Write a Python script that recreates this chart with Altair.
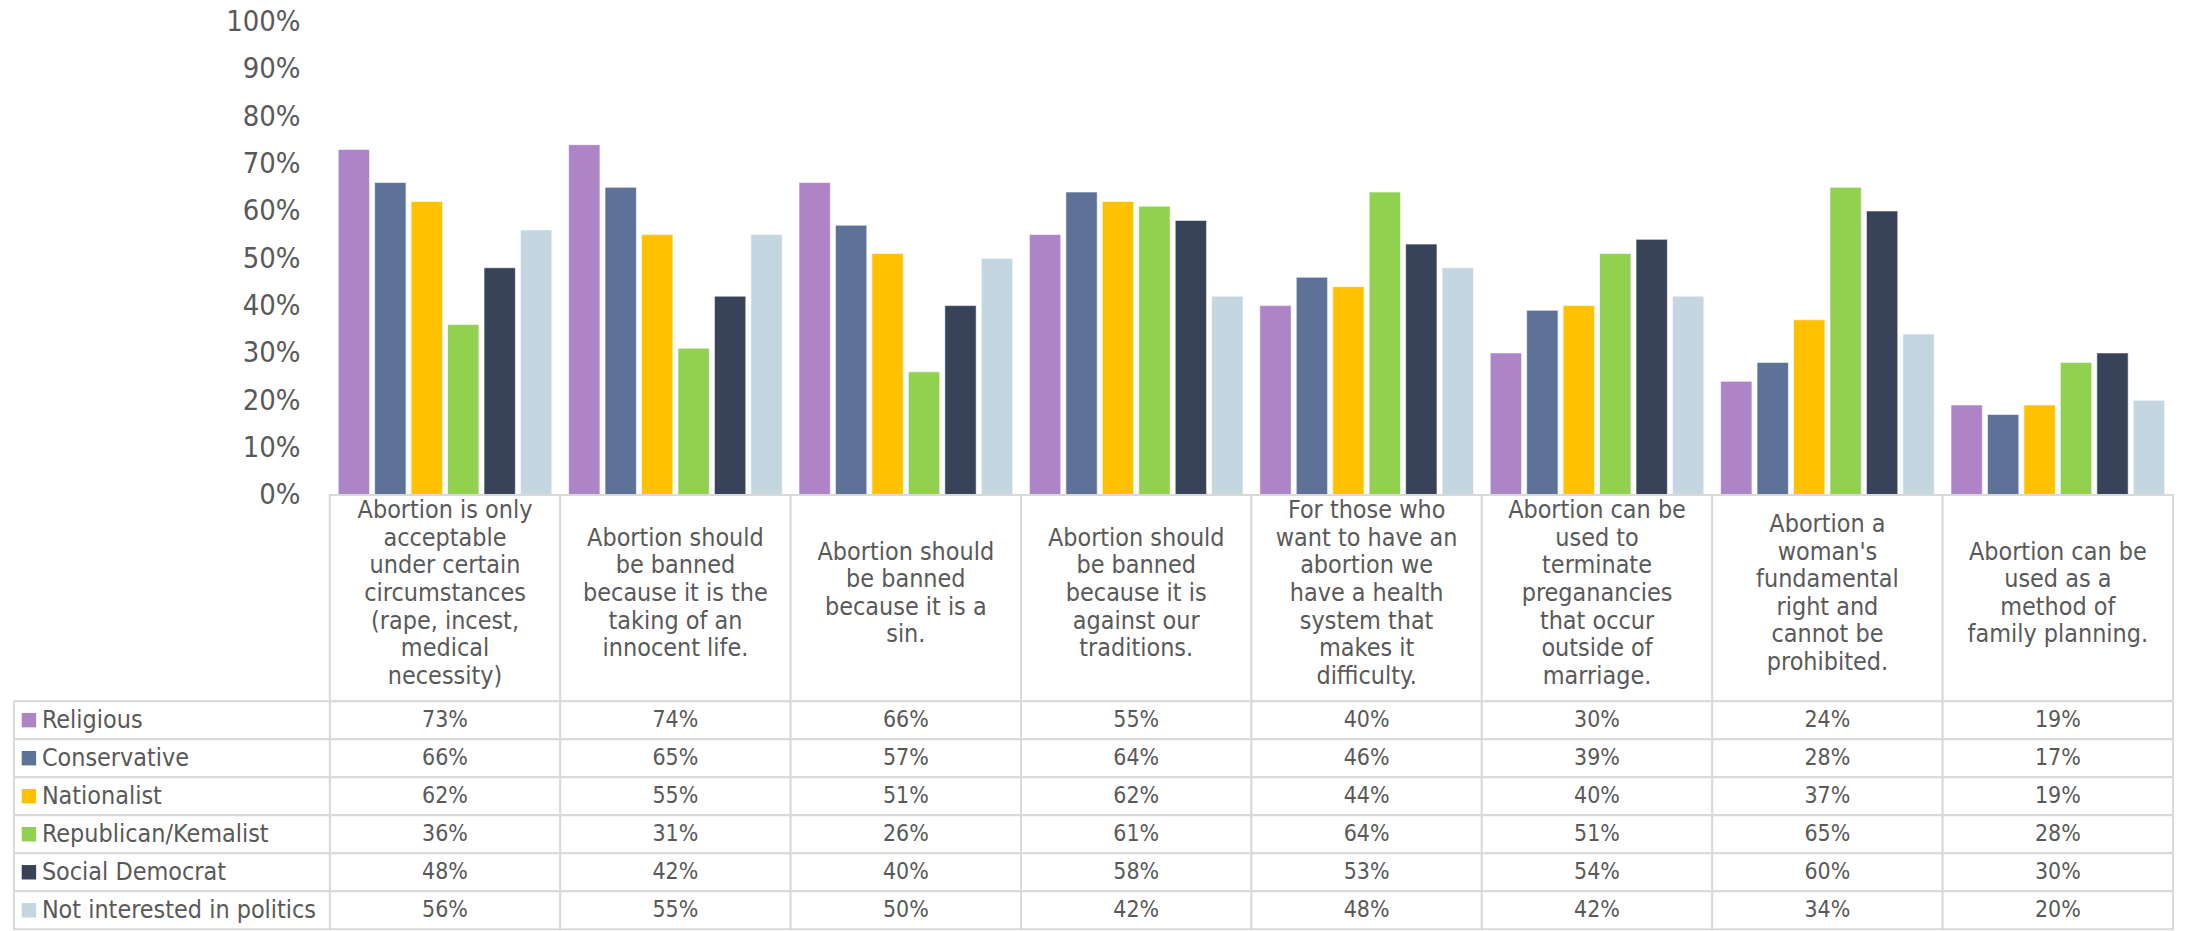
import altair as alt
import pandas as pd

# ---- data -------------------------------------------------------------
cat_ids = ["C1", "C2", "C3", "C4", "C5", "C6", "C7", "C8"]
cat_labels = [
    "Abortion is only\nacceptable\nunder certain\ncircumstances\n(rape, incest,\nmedical\nnecessity)",
    "Abortion should\nbe banned\nbecause it is the\ntaking of an\ninnocent life.",
    "Abortion should\nbe banned\nbecause it is a\nsin.",
    "Abortion should\nbe banned\nbecause it is\nagainst our\ntraditions.",
    "For those who\nwant to have an\nabortion we\nhave a health\nsystem that\nmakes it\ndifficulty.",
    "Abortion can be\nused to\nterminate\npreganancies\nthat occur\noutside of\nmarriage.",
    "Abortion a\nwoman's\nfundamental\nright and\ncannot be\nprohibited.",
    "Abortion can be\nused as a\nmethod of\nfamily planning.",
]
series = ["Religious", "Conservative", "Nationalist", "Republican/Kemalist",
          "Social Democrat", "Not interested in politics"]
colors = ["#AD84C6", "#5E7197", "#FFC000", "#92D050", "#384359", "#C4D6E0"]

religious = [73, 74, 66, 55, 40, 30, 24, 19]
conservative = [66, 65, 57, 64, 46, 39, 28, 17]
nationalist = [62, 55, 51, 62, 44, 40, 37, 19]
republican = [36, 31, 26, 61, 64, 51, 65, 28]
social_dem = [48, 42, 40, 58, 53, 54, 60, 30]
not_interested = [56, 55, 50, 42, 48, 42, 34, 20]
values = [religious, conservative, nationalist, republican, social_dem, not_interested]

rows = []
for s, vals in zip(series, values):
    for c, v in zip(cat_ids, vals):
        rows.append({"series": s, "cat": c, "value": v, "pct": f"{v}%"})
df = pd.DataFrame(rows)
cat_df = pd.DataFrame({"cat": cat_ids})
ser_df = pd.DataFrame({"series": series})

# one row per wrapped line of each category label, centred on the cell
line_rows = []
for c, lab in zip(cat_ids, cat_labels):
    parts = lab.split("\n")
    n = len(parts)
    for i, p in enumerate(parts):
        line_rows.append({"cat": c, "line": p, "k": i - (n - 1) / 2})
line_df = pd.DataFrame(line_rows)

# ---- style ------------------------------------------------------------
TXT = "#595959"
GRID = "#D9D9D9"
TXT_FONT = "DejaVu Sans Condensed, DejaVu Sans, sans-serif"
NUM_FONT = "DejaVu Sans Condensed, DejaVu Sans, sans-serif"
W = 1850
HDR_H = 207
LINE_H = 27.7

xenc = alt.X("cat:N", sort=cat_ids,
             scale=alt.Scale(domain=cat_ids, paddingInner=0, paddingOuter=0),
             axis=None)
color_scale = alt.Scale(domain=series, range=colors)

# ---- bars ---------------------------------------------------------------
bars = alt.Chart(df).mark_bar(stroke="white", strokeWidth=0.6).encode(
    x=xenc,
    xOffset=alt.XOffset("series:N", sort=series,
                        scale=alt.Scale(domain=series, paddingInner=0.14, paddingOuter=0.23)),
    y=alt.Y("value:Q", scale=alt.Scale(domain=[0, 100]),
            axis=alt.Axis(values=list(range(0, 101, 10)), labelExpr="datum.value + '%'",
                          ticks=False, domain=False, grid=False, labelFontSize=29,
                          labelFont=NUM_FONT, labelColor=TXT, labelPadding=30, title=None)),
    color=alt.Color("series:N", scale=color_scale, legend=None),
).properties(width=W, height=475)

# ---- category header row --------------------------------------------------
half = HDR_H / LINE_H / 2
hdr_rect = alt.Chart(cat_df).mark_rect(fill="white", stroke=GRID, strokeWidth=2).encode(x=xenc)
hdr_text = alt.Chart(line_df).mark_text(
    font=TXT_FONT, fontSize=25, color=TXT, baseline="middle", dy=-5,
).encode(
    x=xenc,
    y=alt.Y("k:Q", scale=alt.Scale(domain=[half, -half]), axis=None),
    text="line:N",
)
header = alt.layer(hdr_rect, hdr_text).properties(width=W, height=HDR_H)

# ---- data table -----------------------------------------------------------
yenc = alt.Y("series:N", sort=series,
             scale=alt.Scale(domain=series, paddingInner=0, paddingOuter=0), axis=None)
cells = alt.Chart(df).mark_rect(fill="white", stroke=GRID, strokeWidth=2).encode(x=xenc, y=yenc)
lbl_cells = alt.Chart(ser_df).mark_rect(fill="white", stroke=GRID, strokeWidth=2).encode(
    x=alt.value(-317), x2=alt.value(0), y=yenc)
vals_text = alt.Chart(df).mark_text(font=NUM_FONT, fontSize=23, color=TXT).encode(
    x=xenc, y=yenc, text="pct:N")
lbl_text = alt.Chart(ser_df).mark_text(font=TXT_FONT, fontSize=25, color=TXT, align="left").encode(
    x=alt.value(-289), y=yenc, text="series:N")
squares = alt.Chart(ser_df).mark_square(size=210, opacity=1).encode(
    x=alt.value(-302), y=yenc,
    color=alt.Color("series:N", scale=color_scale, legend=None))
table = alt.layer(cells, lbl_cells, vals_text, lbl_text, squares).properties(width=W, height=229)

chart = alt.vconcat(bars, header, table, spacing=0, bounds="flush").properties(
    padding={"top": -2, "left": 5, "right": 5, "bottom": 0}
).configure_view(strokeWidth=0).configure_concat(spacing=0)

chart.save("out.html", embed_options={"renderer": "svg", "actions": False})
